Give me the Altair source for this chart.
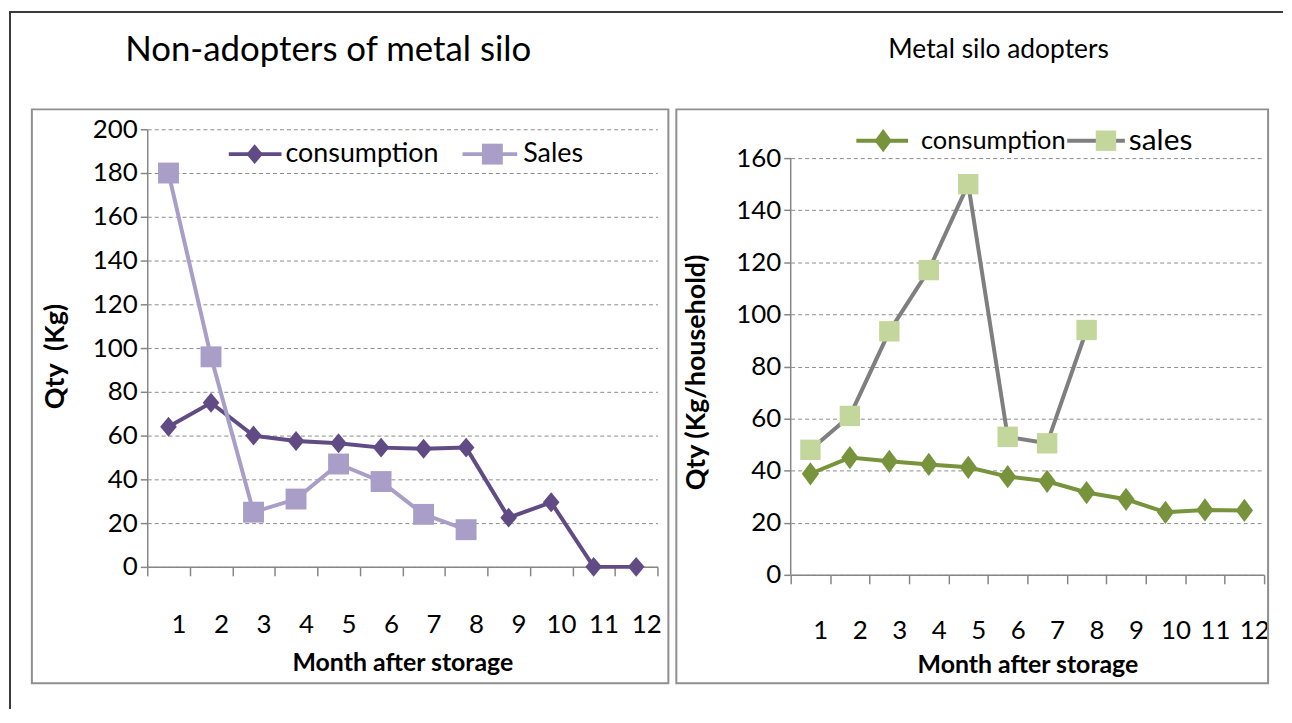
import altair as alt
import pandas as pd

# ---------------- data ----------------
months = list(range(1, 13))
non_consumption = [64, 75, 60, 57.5, 56.5, 54.5, 54, 54.5, 22.5, 29.5, 0, 0]
non_sales = [180, 96, 25, 31, 47, 39, 24, 17]
adopt_consumption = [38.8, 45, 43.6, 42.4, 41.3, 37.7, 35.9, 31.6, 29, 24, 24.9, 24.7]
adopt_sales = [48, 61, 93.5, 117, 150, 53, 50.5, 94]
left_series = ["consumption", "Sales"]
right_series = ["consumption", "sales"]
left_title = "Non-adopters of metal silo"
right_title = "Metal silo adopters"
x_title = "Month after storage"
left_y_title = "Qty\u00a0 (Kg)"
right_y_title = "Qty (Kg/household)"
left_y_ticks = list(range(0, 201, 20))
right_y_ticks = list(range(0, 161, 20))

left_cons_df = pd.DataFrame({"month": months, "qty": non_consumption})
left_sales_df = pd.DataFrame({"month": months[:len(non_sales)], "qty": non_sales})
right_cons_df = pd.DataFrame({"month": months, "qty": adopt_consumption})
right_sales_df = pd.DataFrame({"month": months[:len(adopt_sales)], "qty": adopt_sales})
one = pd.DataFrame({"k": [0]})

# ---------------- style ----------------
FONT = "Lato"
AX = "#868686"
GRID = "#8c8c8c"
FRAME = "#8f8f8f"
OUTER = "#3a3a3a"
L_CONS = "#614b85"
L_SALES = "#a89ec8"
R_CONS = "#77933c"
R_SALES_LINE = "#7f7f7f"
R_SALES_MARK = "#c3d69b"
DIAMOND_L = "M0,-1.2L1,0L0,1.2L-1,0Z"
DIAMOND_R = "M0,-1.35L1,0L0,1.35L-1,0Z"


def x_enc(label_pad, title_y):
    return alt.X(
        "month:O", bandPosition=0.5,
        scale=alt.Scale(type="band", domain=months, paddingInner=0, paddingOuter=0),
        axis=alt.Axis(
            title=x_title, labelAngle=0, tickBand="extent", labelOffset=10,
            tickSize=9, tickColor=AX, tickWidth=1.5, domainColor=AX, domainWidth=1.5,
            labelPadding=label_pad, labelFontSize=26, labelFont=FONT, labelColor="black",
            titleFont=FONT, titleFontSize=25, titleFontWeight="bold", titleColor="black",
            titleY=title_y, titleBaseline="middle", grid=False,
        ),
    )


def y_enc(dmax, ticks, title, tx, ty, domain=True):
    return alt.Y(
        "qty:Q",
        scale=alt.Scale(domain=[0, dmax], nice=False, zero=True),
        axis=alt.Axis(
            values=ticks, grid=True, gridDash=[4, 3], gridColor=GRID, gridWidth=1,
            tickSize=7, tickColor=AX, tickWidth=1.5, domain=domain, domainColor=AX,
            domainWidth=1.5, labelPadding=3, labelFontSize=26, labelFont=FONT,
            labelColor="black", title=title, titleFont=FONT, titleFontSize=27,
            titleFontWeight="bold", titleColor="black", titleX=tx, titleY=ty,
            titleAlign="center", titleBaseline="middle", titleAngle=270,
        ),
    )


def hrule(x1, x2, y, color, w, cap="butt"):
    return alt.Chart(one).mark_rule(color=color, strokeWidth=w, strokeCap=cap).encode(
        x=alt.value(x1), x2=alt.value(x2), y=alt.value(y))


def vrule(x, y1, y2, color, w):
    return alt.Chart(one).mark_rule(color=color, strokeWidth=w).encode(
        x=alt.value(x), y=alt.value(y1), y2=alt.value(y2))


def frame(x1, x2, y1, y2):
    return alt.Chart(one).mark_rect(fillOpacity=0, stroke=FRAME, strokeWidth=2).encode(
        x=alt.value(x1), x2=alt.value(x2), y=alt.value(y1), y2=alt.value(y2))


def text(t, x, y, size, align="left"):
    return alt.Chart(one).mark_text(
        text=t, align=align, baseline="middle", font=FONT, fontSize=size, color="black"
    ).encode(x=alt.value(x), y=alt.value(y))


def sym(x, y, shape, size, color):
    return alt.Chart(one).mark_point(
        shape=shape, filled=True, color=color, size=size, opacity=1, strokeWidth=0
    ).encode(x=alt.value(x), y=alt.value(y))


def line(df, color, x, y, w=4):
    return alt.Chart(df).mark_line(color=color, strokeWidth=w).encode(x=x, y=y)


def pts(df, color, shape, size, x, y):
    return alt.Chart(df).mark_point(
        shape=shape, filled=True, color=color, size=size, opacity=1, strokeWidth=0
    ).encode(x=x, y=y)


# ---------------- left panel ----------------
lx = x_enc(36, 96)
ly = y_enc(200, left_y_ticks, left_y_title, -92, 228)
left = alt.layer(
    frame(-116, 524, -20, 557),
    hrule(-138, 528, -118, OUTER, 2, "square"),
    vrule(-138, -118, 583, OUTER, 2),
    text(left_title, 182, -80, 35, "center"),
    line(left_cons_df, L_CONS, lx, ly),
    pts(left_cons_df, L_CONS, DIAMOND_L, 280, lx, ly),
    line(left_sales_df, L_SALES, lx, ly),
    pts(left_sales_df, L_SALES, "square", 441, lx, ly),
    hrule(82, 135, 25, L_CONS, 4),
    sym(108, 25, DIAMOND_L, 280, L_CONS),
    text(left_series[0], 139, 25, 27),
    hrule(317, 372, 25, L_SALES, 4),
    sym(347, 25, "square", 441, L_SALES),
    text(left_series[1], 378, 25, 27),
).properties(width=513, height=440)

# ---------------- right panel ----------------
r_top = 160 * 448 / 419
rx = x_enc(34, 90)
ry = y_enc(r_top, right_y_ticks, right_y_title, -95, 244, domain=False)
right = alt.layer(
    frame(-115, 480, -20, 557),
    hrule(-119, 494, -118, OUTER, 2, "square"),
    text(right_title, 209, -80, 26.5, "center"),
    alt.Chart(one).mark_rule(color=AX, strokeWidth=1.5).encode(
        x=alt.value(0), y=alt.datum(0), y2=alt.datum(160)),
    line(right_sales_df, R_SALES_LINE, rx, ry),
    pts(right_sales_df, R_SALES_MARK, "square", 420, rx, ry),
    line(right_cons_df, R_CONS, rx, ry),
    pts(right_cons_df, R_CONS, DIAMOND_R, 300, rx, ry),
    hrule(66, 118, 11.5, R_CONS, 4),
    sym(93, 11.5, DIAMOND_R, 300, R_CONS),
    text(right_series[0], 131, 11.5, 25.5),
    hrule(278, 336, 11.5, R_SALES_LINE, 4),
    sym(317, 11.5, "square", 420, R_SALES_MARK),
    text(right_series[1], 340, 11.5, 30),
).properties(width=476, height=448)

chart = alt.hconcat(left, right, spacing=-4, padding=0, background="white").configure_view(
    stroke=None
)

chart.save("out.html", embed_options={"renderer": "svg", "actions": False})
